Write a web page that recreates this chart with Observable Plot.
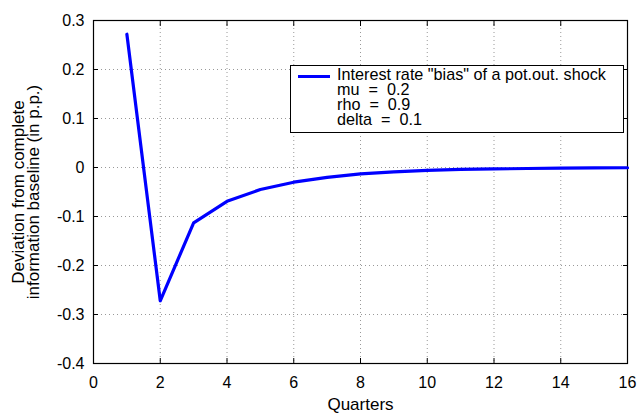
<!DOCTYPE html>
<html><head><meta charset="utf-8">
<script src="https://cdn.jsdelivr.net/npm/d3@7"></script>
<script src="https://cdn.jsdelivr.net/npm/@observablehq/plot@0.6"></script>
<style>
body{margin:0;background:#fff;font-family:"Liberation Sans",Arial,sans-serif}
#wrap{position:relative;width:638px;height:415px}
#legend{position:absolute;left:290px;top:65px;width:334px;height:68px;border:1.5px solid #000;background:#fff;font-size:16.2px;line-height:15px;box-sizing:border-box}
#legend .txt{position:absolute;left:46px;top:1.3px;white-space:pre}
#legend .sw{position:absolute;left:7px;top:8.5px;width:32px;height:3.5px;background:#0000ff}
</style></head>
<body><div id="wrap"></div>
<script>
const quarters = [1,2,3,4,5,6,7,8,9,10,11,12,13,14,15,16];
const bias = [0.272,-0.272,-0.113,-0.069,-0.045,-0.030,-0.020,-0.013,-0.009,-0.006,-0.004,-0.003,-0.002,-0.0013,-0.0008,-0.0005];
const xTicks = [0,2,4,6,8,10,12,14,16];
const yTicks = [-0.4,-0.3,-0.2,-0.1,0,0.1,0.2,0.3];
const legendLines = ['Interest rate "bias" of a pot.out. shock','mu  =  0.2','rho  =  0.9','delta  =  0.1'];

const data = quarters.map((q,i)=>({q, v: bias[i]}));
const fmt = d => d === 0 ? "0" : String(d);

const chart = Plot.plot({
  width: 638, height: 415,
  marginLeft: 93, marginRight: 11, marginTop: 20, marginBottom: 52,
  style: {fontFamily: '"Liberation Sans", Arial, sans-serif', fontSize: "16px", color: "#000", background: "#fff"},
  x: {domain: [0,16], ticks: xTicks, label: null},
  y: {domain: [-0.4,0.3], ticks: yTicks, label: null},
  marks: [
    Plot.gridX(xTicks.slice(1,-1), {stroke: "#555", strokeOpacity: 0.6, strokeDasharray: "1,3"}),
    Plot.gridY(yTicks.slice(1,-1), {stroke: "#555", strokeOpacity: 0.6, strokeDasharray: "1,3"}),
    Plot.frame({stroke: "#000", strokeWidth: 1.2}),
    Plot.axisX(xTicks, {tickSize: 0, tickPadding: 13, tickFormat: fmt, fontSize: 16}),
    Plot.axisX(xTicks, {anchor: "bottom", tickSize: -5, text: null}),
    Plot.axisX(xTicks, {anchor: "top", tickSize: -5, text: null, label: null}),
    Plot.axisY(yTicks, {tickSize: 0, tickPadding: 9, tickFormat: fmt, fontSize: 16}),
    Plot.axisY(yTicks, {anchor: "left", tickSize: -5, text: null, label: null}),
    Plot.axisY(yTicks, {anchor: "right", tickSize: -5, text: null, label: null}),
    Plot.line(data, {x: "q", y: "v", stroke: "#0000ff", strokeWidth: 3.2}),
    Plot.text(["Quarters"], {frameAnchor: "bottom", dy: 46, fontSize: 17}),
    Plot.text(["Deviation from complete\ninformation baseline (in p.p.)"], {frameAnchor: "left", textAnchor: "middle", dx: -67, rotate: -90, fontSize: 17, lineHeight: 0.92})
  ]
});
document.getElementById("wrap").appendChild(chart);

const lg = document.createElement("div");
lg.id = "legend";
lg.innerHTML = '<div class="sw"></div><div class="txt"></div>';
lg.querySelector(".txt").textContent = legendLines.join("\n");
document.getElementById("wrap").appendChild(lg);
</script></body></html>
